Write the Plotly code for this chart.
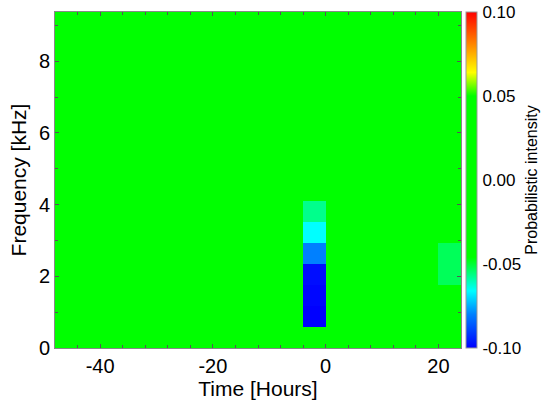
import plotly.graph_objects as go

# Time bin centres (hours), 4-hour bins from -48 to 24
time_hours = [-46, -42, -38, -34, -30, -26, -22, -18, -14, -10, -6, -2, 2, 6, 10, 14, 18, 22]
# Frequency bin centres (kHz), 16 bins of 0.586 kHz
freq_khz = [0.293, 0.879, 1.465, 2.051, 2.637, 3.223, 3.809, 4.395,
            4.980, 5.566, 6.152, 6.738, 7.324, 7.910, 8.496, 9.082]

# Probabilistic intensity per frequency bin (rows) and time bin (columns)
intensity = [
    [0, 0, 0, 0, 0, 0, 0, 0, 0, 0, 0, 0, 0, 0, 0, 0, 0, 0],
    [0, 0, 0, 0, 0, 0, 0, 0, 0, 0, 0, -0.100, 0, 0, 0, 0, 0, 0],
    [0, 0, 0, 0, 0, 0, 0, 0, 0, 0, 0, -0.099, 0, 0, 0, 0, 0, 0],
    [0, 0, 0, 0, 0, 0, 0, 0, 0, 0, 0, -0.098, 0, 0, 0, 0, 0, -0.053],
    [0, 0, 0, 0, 0, 0, 0, 0, 0, 0, 0, -0.080, 0, 0, 0, 0, 0, -0.053],
    [0, 0, 0, 0, 0, 0, 0, 0, 0, 0, 0, -0.066, 0, 0, 0, 0, 0, 0],
    [0, 0, 0, 0, 0, 0, 0, 0, 0, 0, 0, -0.057, 0, 0, 0, 0, 0, 0],
    [0, 0, 0, 0, 0, 0, 0, 0, 0, 0, 0, 0, 0, 0, 0, 0, 0, 0],
    [0, 0, 0, 0, 0, 0, 0, 0, 0, 0, 0, 0, 0, 0, 0, 0, 0, 0],
    [0, 0, 0, 0, 0, 0, 0, 0, 0, 0, 0, 0, 0, 0, 0, 0, 0, 0],
    [0, 0, 0, 0, 0, 0, 0, 0, 0, 0, 0, 0, 0, 0, 0, 0, 0, 0],
    [0, 0, 0, 0, 0, 0, 0, 0, 0, 0, 0, 0, 0, 0, 0, 0, 0, 0],
    [0, 0, 0, 0, 0, 0, 0, 0, 0, 0, 0, 0, 0, 0, 0, 0, 0, 0],
    [0, 0, 0, 0, 0, 0, 0, 0, 0, 0, 0, 0, 0, 0, 0, 0, 0, 0],
    [0, 0, 0, 0, 0, 0, 0, 0, 0, 0, 0, 0, 0, 0, 0, 0, 0, 0],
    [0, 0, 0, 0, 0, 0, 0, 0, 0, 0, 0, 0, 0, 0, 0, 0, 0, 0],
]

x_tick_vals = [-40, -20, 0, 20]
x_tick_text = ["-40", "-20", "0", "20"]
y_tick_vals = [0, 2, 4, 6, 8]
colorbar_ticks = [-0.10, -0.05, 0.00, 0.05, 0.10]
colorbar_tick_text = ["-0.10", "-0.05", "0.00", "0.05", "0.10"]

colorscale = [
    [0.0, "rgb(0,0,255)"],
    [0.10, "rgb(0,128,255)"],
    [0.17, "rgb(0,255,255)"],
    [0.27, "rgb(0,255,0)"],
    [0.75, "rgb(0,255,0)"],
    [0.82, "rgb(255,255,0)"],
    [0.90, "rgb(255,140,0)"],
    [1.0, "rgb(255,0,0)"],
]

FONT = "Liberation Sans, Arial, sans-serif"

fig = go.Figure(
    go.Heatmap(
        x=time_hours,
        y=freq_khz,
        z=intensity,
        zmin=-0.10,
        zmax=0.10,
        colorscale=colorscale,
        colorbar=dict(
            x=1.012,
            xanchor="left",
            xpad=0,
            ypad=0,
            y=0.5,
            len=1.0,
            lenmode="fraction",
            thickness=11,
            outlinewidth=1,
            outlinecolor="#999999",
            tickmode="array",
            tickvals=colorbar_ticks,
            ticktext=colorbar_tick_text,
            ticks="outside",
            ticklen=2,
            tickcolor="rgba(0,0,0,0)",
            tickfont=dict(size=17, color="black", family=FONT),
            title=dict(text="Probabilistic intensity", side="right",
                       font=dict(size=16, color="black", family=FONT)),
        ),
    )
)

axis_common = dict(
    showgrid=False,
    zeroline=False,
    showline=True,
    linecolor="#888888",
    linewidth=1,
    mirror="ticks",
    ticks="inside",
    ticklen=4,
    tickcolor="#555555",
    automargin=False,
    tickfont=dict(size=20, color="black", family=FONT),
)

fig.update_xaxes(
    range=[-48, 24],
    tickmode="array",
    tickvals=x_tick_vals,
    ticktext=x_tick_text,
    minor=dict(tick0=0, dtick=4, ticks="inside", ticklen=3, tickcolor="#555555"),
    title=dict(text="Time [Hours]", font=dict(size=21, color="black", family=FONT), standoff=2),
    **axis_common,
)
fig.update_yaxes(
    range=[0, 9.375],
    tickmode="array",
    tickvals=y_tick_vals,
    minor=dict(tick0=0, dtick=1, ticks="inside", ticklen=3, tickcolor="#555555"),
    title=dict(text="Frequency [kHz]", font=dict(size=21, color="black", family=FONT), standoff=6),
    **axis_common,
)

fig.update_layout(
    width=550,
    height=409,
    margin=dict(l=55, r=89, t=12, b=61, autoexpand=False),
    paper_bgcolor="white",
    plot_bgcolor="white",
    font=dict(family=FONT, color="black"),
)

fig.write_html(
    "out.html",
    config={"displayModeBar": False},
    post_script="document.body.style.margin='0';document.body.style.overflow='hidden';",
)
